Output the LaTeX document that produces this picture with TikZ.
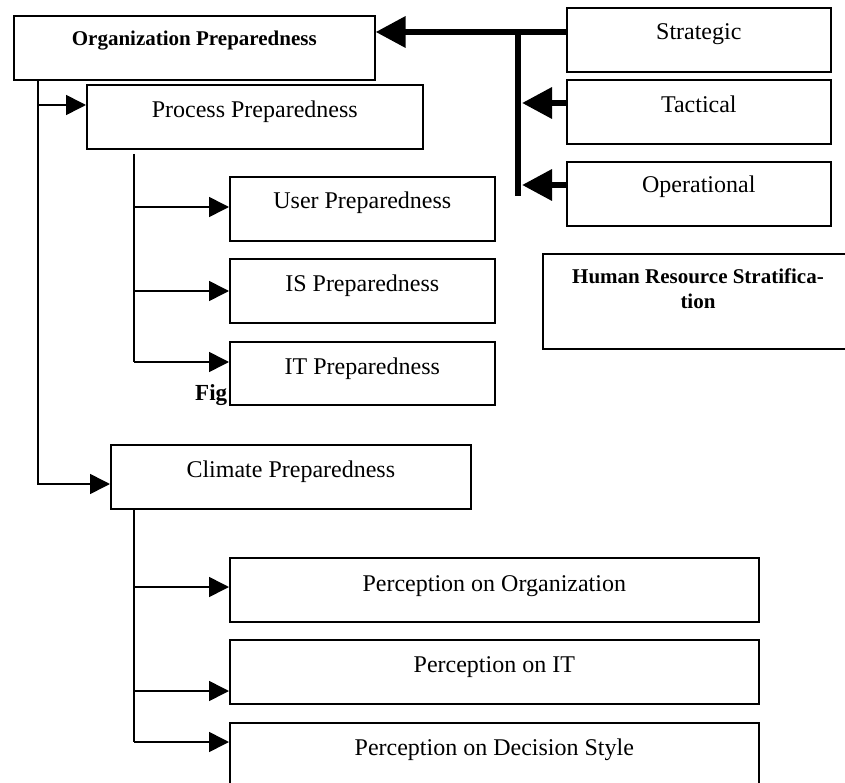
\documentclass[tikz,border=0pt]{standalone}
\usepackage{fontspec}
\setmainfont{Liberation Serif}
\usetikzlibrary{arrows.meta}
\tikzset{
  box/.style={draw, line width=1.6pt, fill=white, anchor=north west, inner sep=0pt},
  txt/.style={anchor=base, inner sep=0pt, font=\fontsize{24}{28}\selectfont},
  btxt/.style={anchor=base, inner sep=0pt, font=\fontsize{21}{25}\selectfont\bfseries},
  thinline/.style={line width=1.6pt},
  thinarr/.style={line width=1.6pt, -{Triangle[length=20pt,width=20pt]}},
  thickline/.style={line width=6.5pt},
  thickarr/.style={line width=6.5pt, -{Triangle[length=30pt,width=30pt]}},
}
\begin{document}
\begin{tikzpicture}[x=1pt,y=-1pt]
\useasboundingbox (0,0) rectangle (845,783);
% caption fragment hidden behind a box
\node[anchor=base west, inner sep=0pt, font=\fontsize{23}{27}\selectfont\bfseries] (fig) at (195,400) {Fig};
% boxes
\node[box, minimum width=361pt, minimum height=64pt] (org) at (13,15) {};
\node[box, minimum width=336pt, minimum height=64pt] (proc) at (86,84) {};
\node[box, minimum width=265pt, minimum height=64pt] (user) at (229,176) {};
\node[box, minimum width=265pt, minimum height=64pt] (is) at (229,258) {};
\node[box, minimum width=265pt, minimum height=63pt] (it) at (229,341) {};
\node[box, minimum width=360pt, minimum height=64pt] (clim) at (110,444) {};
\node[box, minimum width=529pt, minimum height=64pt] (po) at (229,557) {};
\node[box, minimum width=529pt, minimum height=64pt] (pit) at (229,639) {};
\node[box, minimum width=529pt, minimum height=90pt] (pds) at (229,722) {};
\node[box, minimum width=264pt, minimum height=64pt] (strat) at (566,7) {};
\node[box, minimum width=264pt, minimum height=64pt] (tact) at (566,79) {};
\node[box, minimum width=264pt, minimum height=64pt] (oper) at (566,161) {};
\node[box, minimum width=312pt, minimum height=95pt] (hrs) at (542,253) {};
% texts
\node[btxt] (t-org) at ([yshift=-31pt]org.north) {Organization Preparedness};
\node[txt] (t-proc) at ([yshift=-34pt]proc.north) {Process Preparedness};
\node[txt] (t-user) at ([yshift=-33pt]user.north) {User Preparedness};
\node[txt] (t-is) at ([yshift=-34pt]is.north) {IS Preparedness};
\node[txt] (t-it) at ([yshift=-33pt]it.north) {IT Preparedness};
\node[txt] (t-clim) at ([yshift=-33pt]clim.north) {Climate Preparedness};
\node[txt] (t-po) at ([yshift=-34pt]po.north) {Perception on Organization};
\node[txt] (t-pit) at ([yshift=-33pt]pit.north) {Perception on IT};
\node[txt] (t-pds) at ([yshift=-33pt]pds.north) {Perception on Decision Style};
\node[txt] (t-strat) at ([yshift=-33pt]strat.north) {Strategic};
\node[txt] (t-tact) at ([yshift=-34pt]tact.north) {Tactical};
\node[txt] (t-oper) at ([yshift=-32pt]oper.north) {Operational};
\node[btxt, anchor=north, align=center] (t-hrs) at (698,268.5) {Human Resource Stratifica-\\tion};
% arrow entry points
\coordinate (e-proc) at ([yshift=-21pt]proc.north west);
\coordinate (e-clim) at ([yshift=-40pt]clim.north west);
\coordinate (e-user) at ([yshift=-31pt]user.north west);
\coordinate (e-is) at ([yshift=-33pt]is.north west);
\coordinate (e-it) at ([yshift=-21pt]it.north west);
\coordinate (e-po) at ([yshift=-30pt]po.north west);
\coordinate (e-pit) at ([yshift=-52pt]pit.north west);
\coordinate (e-pds) at ([yshift=-20pt]pds.north west);
\coordinate (e-org) at ([yshift=-17pt]org.north east);
\coordinate (s-strat) at ([yshift=-25pt]strat.north west);
\coordinate (s-tact) at ([yshift=-24pt]tact.north west);
\coordinate (s-oper) at ([yshift=-24pt]oper.north west);
% left trunk
\coordinate (trunk) at ([xshift=25pt]org.south west);
\draw[thinarr] (trunk) |- (e-clim);
\draw[thinarr] (trunk |- e-proc) -- (e-proc);
% process sub-trunk
\coordinate (ptr) at (134,154);
\draw[thinline] (ptr) -- (ptr |- e-it);
\draw[thinarr] (ptr |- e-user) -- (e-user);
\draw[thinarr] (ptr |- e-is) -- (e-is);
\draw[thinarr] (ptr |- e-it) -- (e-it);
% climate sub-trunk
\coordinate (ctr) at (clim.south west -| ptr);
\draw[thinline] (ctr) -- (ctr |- e-pds);
\draw[thinarr] (ctr |- e-po) -- (e-po);
\draw[thinarr] (ctr |- e-pit) -- (e-pit);
\draw[thinarr] (ctr |- e-pds) -- (e-pds);
% human resource bus
\coordinate (bus) at (518,32);
\coordinate (busend) at (518,196);
\coordinate (busr) at (522,32);
\draw[thickline] (bus) -- (busend);
\draw[thickarr] (s-strat) -- (e-org);
\draw[thickarr] (s-tact) -- (busr |- s-tact);
\draw[thickarr] (s-oper) -- (busr |- s-oper);
\end{tikzpicture}
\end{document}
